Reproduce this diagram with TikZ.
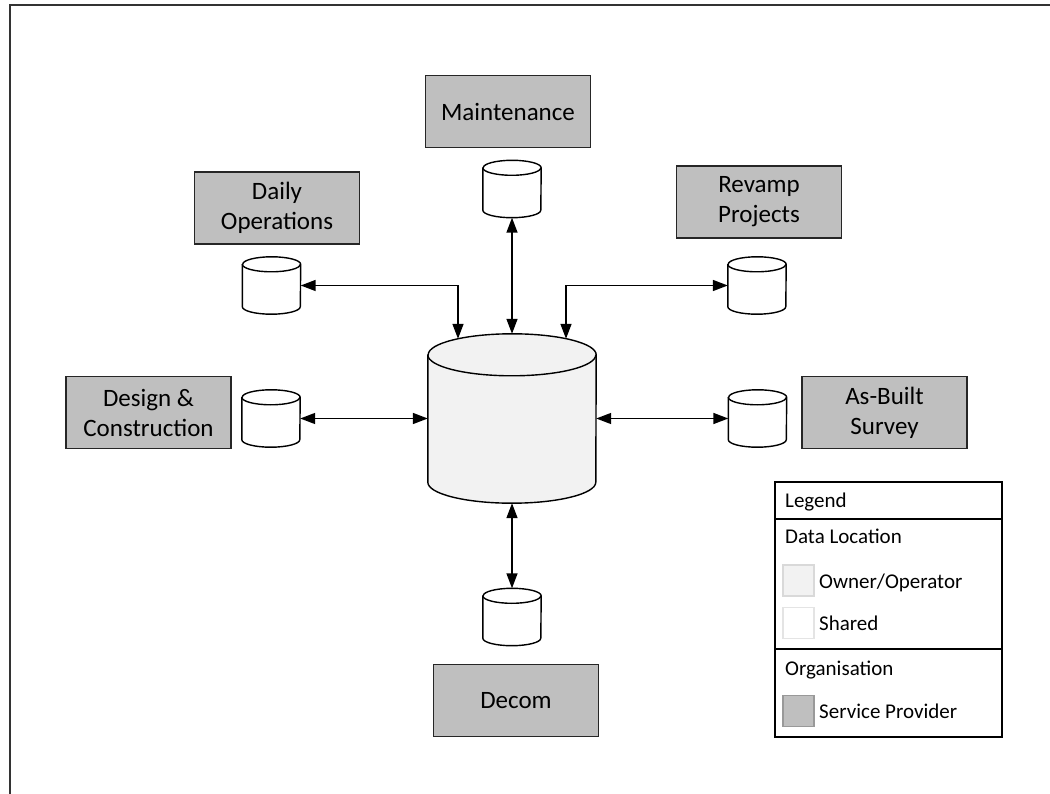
\documentclass[tikz,border=0pt]{standalone}
\usepackage{fontspec}
\setmainfont{Carlito}
\usetikzlibrary{positioning, arrows.meta, calc}
\definecolor{provider}{RGB}{191,191,191}
\definecolor{owner}{RGB}{242,242,242}
\definecolor{swatchline}{RGB}{217,217,217}
\tikzset{%
  org/.style={draw=black!85, fill=provider, line width=1.6pt,
    minimum width=165pt, minimum height=72pt, align=center,
    font=\fontsize{25}{30}\selectfont},
  store/.style={rectangle, minimum width=58pt, minimum height=57pt,
    inner sep=0pt}, % outline is drawn by \drum
  drum/.style={draw=black, line width=1.4pt, line join=round},
  link/.style={<->, >={Triangle[length=15pt,width=11pt]}, line width=1.5pt},
  legtext/.style={inner sep=0pt, anchor=base west, font=\fontsize{21}{24}\selectfont},
  swatch/.style={minimum size=31pt, inner sep=0pt, line width=1.2pt}
}
% cylinder outline round a node: name, x radius, y radius, fill
\newcommand{\drum}[4]{%
  \filldraw[drum, fill=#4] ([yshift=-#3]#1.north west)
    -- ([yshift=#3]#1.south west)
    arc[start angle=180, end angle=360, x radius=#2, y radius=#3]
    -- ([yshift=-#3]#1.north east)
    arc[start angle=0, end angle=180, x radius=#2, y radius=#3] -- cycle;
  \draw[drum] ([yshift=-#3]#1.north west)
    arc[start angle=180, end angle=360, x radius=#2, y radius=#3];
}
\begin{document}
\begin{tikzpicture}[x=1pt, y=-1pt]
  \useasboundingbox (0,0) rectangle (1050,794);
  \draw[black!80, line width=2.5pt] (10,5) rectangle (1080,830);

  % owner/operator data store
  \node[store, minimum width=168pt, minimum height=169pt] (core) at (512,418.5) {};
  \drum{core}{84pt}{21pt}{owner}

  % shared data stores
  \node[store] (maintdb) at (512,189) {};
  \node[store] (dailydb) at (271.5,285.5) {};
  \node[store] (revampdb) at (757,285.5) {};
  \node[store] (designdb) at (271,418.5) {};
  \node[store] (asbuiltdb) at (757.5,418.5) {};
  \node[store] (decomdb) at (512,617) {};
  \foreach \db in {maintdb, dailydb, revampdb, designdb, asbuiltdb, decomdb}
    {\drum{\db}{29pt}{7.5pt}{white}}

  % service providers
  \node[org, above=12pt of maintdb, xshift=-4pt] (maint) {Maintenance};
  \node[org, above=12pt of dailydb, xshift=5.5pt] (daily) {Daily\\Operations};
  \node[org, above=18pt of revampdb, xshift=2pt] (revamp) {Revamp\\Projects};
  \node[org, left=10pt of designdb, yshift=6pt] (design) {Design \&\\Construction};
  \node[org, right=14.5pt of asbuiltdb, yshift=6pt] (asbuilt) {As-Built\\Survey};
  \node[org, below=18pt of decomdb, xshift=4pt] (decom) {Decom};

  \draw[link] (maintdb) -- (core);
  \draw[link] (dailydb.east) -| ($(core.north)+(-54,5)$);
  \draw[link] (revampdb.west) -| ($(core.north)+(54,5)$);
  \draw[link] (designdb) -- (core);
  \draw[link] (core) -- (asbuiltdb);
  \draw[link] (core) -- (decomdb);

  % legend
  \node[draw, line width=1.6pt, minimum width=227pt, minimum height=255pt,
    inner sep=0pt] (legend) at (888.5,609.5) {};
  \draw[line width=1.6pt] (legend.west |- 0,519) -- (legend.east |- 0,519);
  \draw[line width=1.6pt] (legend.west |- 0,649) -- (legend.east |- 0,649);
  \node[legtext] at (785,507) {Legend};
  \node[legtext] at (785,543) {Data Location};
  \node[legtext] at (785,675) {Organisation};
  \node[swatch, draw=swatchline, fill=owner] (ownersw) at (798.5,580.5) {};
  \node[swatch, draw=swatchline!70, fill=white] (sharedsw) at (798.5,623) {};
  \node[swatch, draw=black!40, fill=provider] (providersw) at (798.5,711) {};
  \node[legtext] at (819,588) {Owner/Operator};
  \node[legtext] at (819,630) {Shared};
  \node[legtext] at (819,718) {Service Provider};
\end{tikzpicture}
\end{document}
